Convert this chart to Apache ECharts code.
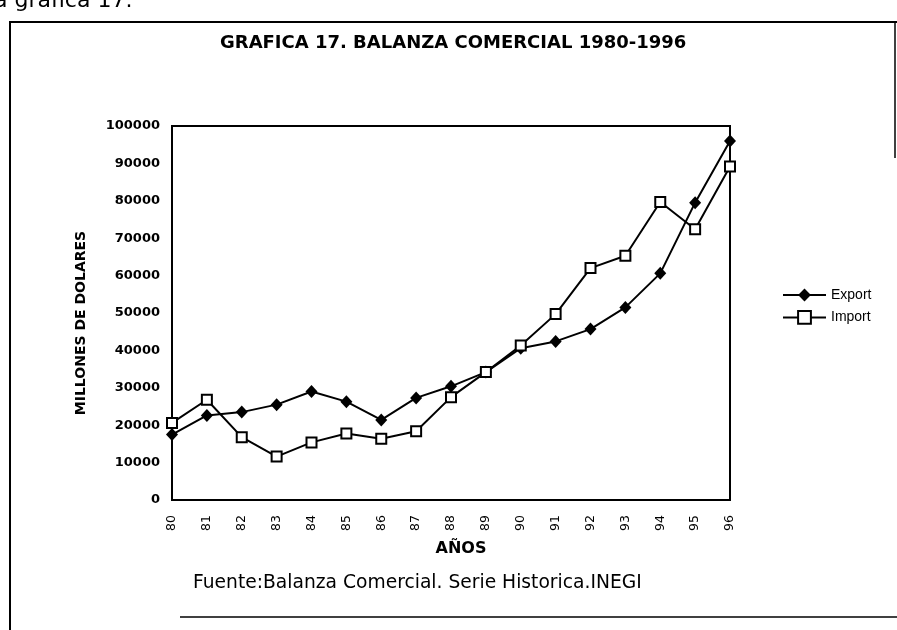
<!DOCTYPE html>
<html>
<head>
<meta charset="utf-8">
<script src="https://cdn.jsdelivr.net/npm/echarts@6/dist/echarts.min.js"></script>
<style>
html, body { margin: 0; padding: 0; background: #fff; }
#chart1 { width: 897px; height: 630px; }
</style>
</head>
<body>
<div id="chart1"></div>
<script>
// years on the x axis (19xx)
let years = ['80', '81', '82', '83', '84', '85', '86', '87', '88', '89', '90', '91', '92', '93', '94', '95', '96'];
// millones de dolares
let exportData = [17500, 22600, 23500, 25500, 29000, 26300, 21400, 27300, 30400, 34200, 40600, 42400, 45700, 51500, 60600, 79500, 96000];
let importData = [20600, 26800, 16800, 11600, 15400, 17800, 16400, 18400, 27500, 34200, 41300, 49700, 62000, 65300, 79700, 72400, 89200];

let dom1 = document.getElementById("chart1");
let Chart1 = echarts.init(dom1);

let option1 = {
    animation: false,
    backgroundColor: '#fff',
    title: [
        {
            text: 'GRAFICA 17. BALANZA COMERCIAL 1980-1996',
            left: 220,
            top: 34,
            padding: 0,
            textStyle: {
                fontFamily: 'DejaVu Sans',
                fontWeight: 'bold',
                fontSize: 18,
                color: '#000'
            }
        },
        {
            text: 'Fuente:Balanza Comercial. Serie Historica.INEGI',
            left: 193,
            top: 574,
            padding: 0,
            textStyle: {
                fontFamily: 'DejaVu Sans',
                fontWeight: 'normal',
                fontSize: 18.7,
                color: '#000'
            }
        }
    ],
    color: ['#000', '#000'],
    legend: {
        data: ['Export', 'Import'],
        orient: 'vertical',
        left: 782,
        top: 288,
        padding: 0,
        itemWidth: 43,
        itemHeight: 16,
        itemGap: 8,
        textStyle: {
            fontFamily: 'Liberation Sans',
            fontSize: 14,
            color: '#000'
        }
    },
    grid: {
        left: 172,
        right: 167,
        top: 126,
        bottom: 130,
        show: true,
        borderColor: '#000',
        borderWidth: 2
    },
    xAxis: {
        type: 'category',
        data: years,
        boundaryGap: false,
        name: 'AÑOS',
        nameLocation: 'middle',
        nameGap: 41,
        nameTextStyle: {
            fontFamily: 'DejaVu Sans',
            fontWeight: 'bold',
            fontSize: 16,
            color: '#000',
            padding: [0, 0, 0, 20]
        },
        axisLine: {
            lineStyle: {
                color: '#000',
                width: 2
            }
        },
        axisTick: { show: false },
        axisLabel: {
            rotate: 90,
            margin: 15,
            fontFamily: 'DejaVu Sans',
            fontSize: 12.5,
            color: '#000'
        },
        splitLine: { show: false }
    },
    yAxis: {
        type: 'value',
        min: 0,
        max: 100000,
        interval: 10000,
        name: 'MILLONES DE DOLARES',
        nameLocation: 'middle',
        nameGap: 84,
        nameTextStyle: {
            fontFamily: 'DejaVu Sans',
            fontWeight: 'bold',
            fontSize: 14,
            color: '#000',
            padding: [0, 20, 0, 0]
        },
        axisLine: {
            show: true,
            lineStyle: {
                color: '#000',
                width: 2
            }
        },
        axisTick: { show: false },
        axisLabel: {
            margin: 12,
            fontFamily: 'DejaVu Sans',
            fontWeight: 'bold',
            fontSize: 13,
            color: '#000',
            formatter: function (value) { return String(value); }
        },
        splitLine: { show: false }
    },
    graphic: [
        {
            type: 'polyline',
            shape: { points: [[10, 630], [10, 22], [897, 22]] },
            style: { stroke: '#000', lineWidth: 2, fill: null }
        },
        {
            type: 'line',
            shape: { x1: 895, y1: 22, x2: 895, y2: 158 },
            style: { stroke: '#000', lineWidth: 1.5 }
        },
        {
            type: 'line',
            shape: { x1: 180, y1: 617, x2: 897, y2: 617 },
            style: { stroke: '#000', lineWidth: 1.5 }
        },
        {
            type: 'text',
            x: -6,
            y: 12,
            style: {
                text: 'a grafica 17.',
                font: '22px "DejaVu Sans"',
                fill: '#000',
                verticalAlign: 'bottom'
            }
        }
    ],
    series: [
        {
            name: 'Export',
            type: 'line',
            data: exportData,
            symbol: 'diamond',
            symbolSize: [12, 13],
            showAllSymbol: true,
            itemStyle: { color: '#000' },
            lineStyle: { color: '#000', width: 2 }
        },
        {
            name: 'Import',
            type: 'line',
            data: importData,
            symbol: 'rect',
            symbolSize: 10,
            showAllSymbol: true,
            itemStyle: { color: '#fff', borderColor: '#000', borderWidth: 2 },
            lineStyle: { color: '#000', width: 2 }
        }
    ]
};

Chart1.setOption(option1);
</script>
</body>
</html>
